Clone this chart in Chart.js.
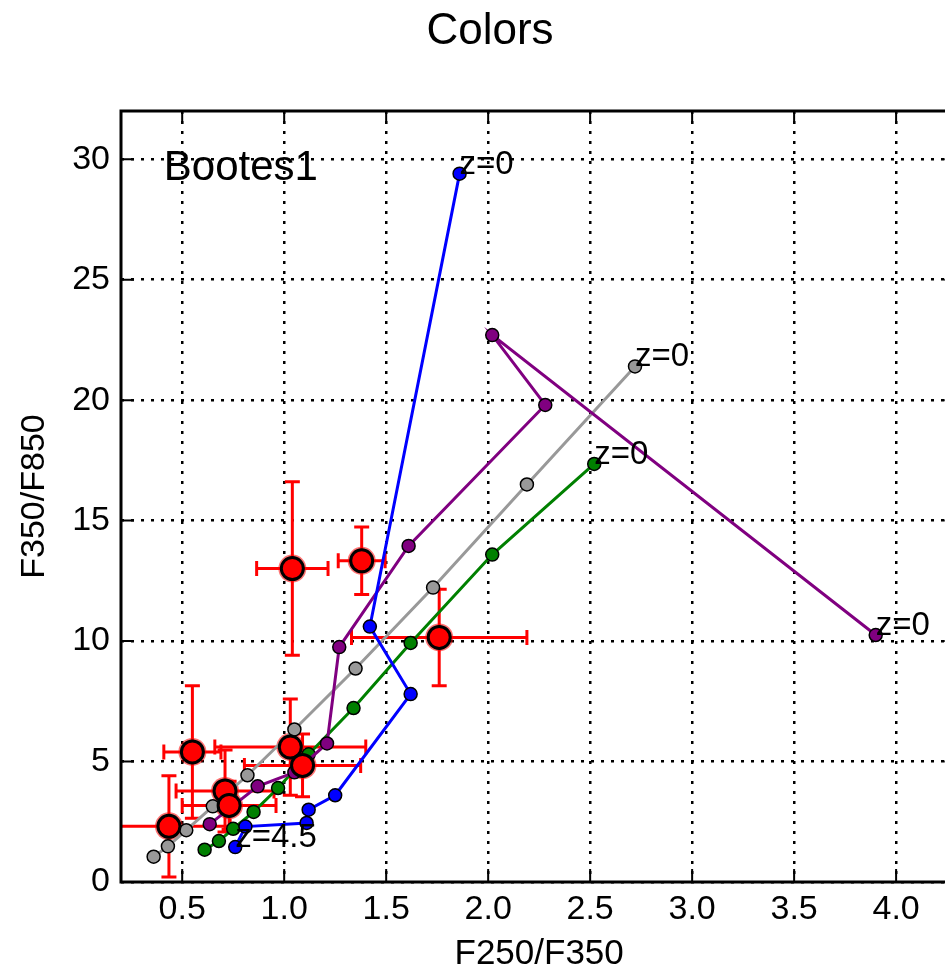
<!DOCTYPE html>
<html>
<head>
<meta charset="utf-8">
<title>Colors</title>
<script src="https://cdn.jsdelivr.net/npm/chart.js@4.4.1/dist/chart.umd.min.js"></script>
<style>
  html, body { margin: 0; padding: 0; background: #fff; overflow: hidden; }
  #wrap { width: 980px; height: 974px; }
</style>
</head>
<body>
<div id="wrap"><canvas id="colorChart" width="980" height="974"></canvas></div>
<script>
// Model tracks, first point z=4.5, last point z=0
const blueX = [0.76, 0.81, 1.11, 1.12, 1.25, 1.62, 1.42, 1.86];
const blueY = [1.45, 2.30, 2.45, 3.00, 3.60, 7.80, 10.60, 29.40];

const purpleX = [0.635, 0.87, 1.05, 1.21, 1.27, 1.61, 2.28, 2.02, 3.90];
const purpleY = [2.40, 3.97, 4.55, 5.75, 9.75, 13.95, 19.80, 22.70, 10.25];

const grayX = [0.36, 0.43, 0.52, 0.65, 0.82, 1.05, 1.35, 1.73, 2.19, 2.72];
const grayY = [1.05, 1.48, 2.15, 3.14, 4.43, 6.33, 8.86, 12.22, 16.50, 21.40];

const greenX = [0.61, 0.68, 0.75, 0.85, 0.97, 1.12, 1.34, 1.62, 2.02, 2.52];
const greenY = [1.34, 1.70, 2.21, 2.91, 3.90, 5.30, 7.22, 9.92, 13.59, 17.35];

// Bootes1 measurements with errors
const obsX    = [1.04, 1.38, 1.76, 0.55, 0.435, 1.03, 1.09, 0.71, 0.73];
const obsY    = [13.01, 13.33, 10.15, 5.40, 2.31, 5.60, 4.84, 3.78, 3.18];
const obsXErr = [0.175, 0.115, 0.43, 0.14, 0.30, 0.37, 0.285, 0.24, 0.23];
const obsYErr = [3.6, 1.4, 2.0, 2.75, 2.1, 2.0, 1.3, 1.7, 1.0];

const xTicks = [0.5, 1.0, 1.5, 2.0, 2.5, 3.0, 3.5, 4.0];
const yTicks = [0, 5, 10, 15, 20, 25, 30];

const FONT = '"Liberation Sans", Arial, Helvetica, sans-serif';
Chart.defaults.font.family = FONT;
Chart.defaults.color = '#000';

function track(label, xs, ys, color) {
    return {
        label: label,
        data: xs.map((v, i) => ({ x: v, y: ys[i] })),
        showLine: true,
        borderColor: color,
        borderWidth: 3,
        backgroundColor: color,
        pointBackgroundColor: color,
        pointBorderColor: '#000',
        pointBorderWidth: 1.5,
        pointRadius: 6.5,
        pointHoverRadius: 6.5,
    };
}

// error bars and the red glow behind each measurement
const errorBars = {
    id: 'errorBars',
    beforeDatasetsDraw(chart) {
        const { ctx, chartArea: a, scales: { x, y } } = chart;
        const cap = 7.5;
        ctx.save();
        ctx.beginPath();
        ctx.rect(a.left, a.top, a.right - a.left, a.bottom - a.top);
        ctx.clip();
        ctx.strokeStyle = '#ff0000';
        ctx.lineWidth = 3;
        obsX.forEach((vx, i) => {
            const px = x.getPixelForValue(vx);
            const py = y.getPixelForValue(obsY[i]);
            const x0 = x.getPixelForValue(vx - obsXErr[i]);
            const x1 = x.getPixelForValue(vx + obsXErr[i]);
            const y0 = y.getPixelForValue(obsY[i] - obsYErr[i]);
            const y1 = y.getPixelForValue(obsY[i] + obsYErr[i]);
            ctx.beginPath();
            ctx.moveTo(x0, py); ctx.lineTo(x1, py);
            ctx.moveTo(px, y0); ctx.lineTo(px, y1);
            ctx.moveTo(x0, py - cap); ctx.lineTo(x0, py + cap);
            ctx.moveTo(x1, py - cap); ctx.lineTo(x1, py + cap);
            ctx.moveTo(px - cap, y0); ctx.lineTo(px + cap, y0);
            ctx.moveTo(px - cap, y1); ctx.lineTo(px + cap, y1);
            ctx.stroke();
            ctx.fillStyle = 'rgba(255,0,0,0.55)';
            ctx.beginPath();
            ctx.arc(px, py, 14, 0, Math.PI * 2);
            ctx.fill();
        });
        ctx.restore();
    }
};

// text labels: field name and redshift ends of the tracks
const labels = {
    id: 'labels',
    afterDatasetsDraw(chart) {
        const { ctx, scales: { x, y } } = chart;
        ctx.save();
        ctx.fillStyle = '#000';
        ctx.textAlign = 'left';
        ctx.textBaseline = 'alphabetic';
        ctx.font = '42px ' + FONT;
        ctx.fillText('Bootes1', x.getPixelForValue(0.41), y.getPixelForValue(29.13));
        ctx.font = '33px ' + FONT;
        [[blueX, blueY], [purpleX, purpleY], [grayX, grayY], [greenX, greenY]].forEach(([xs, ys]) => {
            const n = xs.length - 1;
            ctx.fillText('z=0', x.getPixelForValue(xs[n]), y.getPixelForValue(ys[n]));
        });
        ctx.fillText('z=4.5', x.getPixelForValue(blueX[0]), y.getPixelForValue(blueY[0]));
        ctx.restore();
    }
};

// inward tick marks, axes frame and the figure title
const frame = {
    id: 'frame',
    afterDraw(chart) {
        const { ctx, chartArea: a, scales: { x, y } } = chart;
        const len = 13;
        ctx.save();
        ctx.strokeStyle = '#000';
        ctx.lineWidth = 2;
        ctx.beginPath();
        xTicks.forEach(v => {
            const px = x.getPixelForValue(v);
            ctx.moveTo(px, a.bottom); ctx.lineTo(px, a.bottom - len);
            ctx.moveTo(px, a.top); ctx.lineTo(px, a.top + len);
        });
        yTicks.forEach(v => {
            const py = y.getPixelForValue(v);
            ctx.moveTo(a.left, py); ctx.lineTo(a.left + len, py);
            ctx.moveTo(a.right, py); ctx.lineTo(a.right - len, py);
        });
        ctx.stroke();
        ctx.lineWidth = 3;
        ctx.strokeRect(a.left, a.top, a.right - a.left, a.bottom - a.top);

        ctx.fillStyle = '#000';
        ctx.font = '44px ' + FONT;
        ctx.textAlign = 'center';
        ctx.textBaseline = 'alphabetic';
        ctx.fillText('Colors', 490, 44);
        ctx.restore();
    }
};

const ctx = document.getElementById('colorChart').getContext('2d');
new Chart(ctx, {
    type: 'scatter',
    data: {
        datasets: [
            {
                label: 'Bootes1',
                data: obsX.map((v, i) => ({ x: v, y: obsY[i] })),
                showLine: false,
                pointRadius: 11,
                pointHoverRadius: 11,
                pointBackgroundColor: '#ff0000',
                pointBorderColor: '#000',
                pointBorderWidth: 3,
            },
            track('blue', blueX, blueY, '#0000ff'),
            track('purple', purpleX, purpleY, '#800080'),
            track('gray', grayX, grayY, '#999999'),
            track('green', greenX, greenY, '#008000'),
        ],
    },
    options: {
        responsive: false,
        animation: false,
        events: [],
        layout: { padding: { top: 111, right: 22.7, bottom: 0, left: 0 } },
        plugins: {
            legend: { display: false },
            tooltip: { enabled: false },
            title: { display: false },
        },
        scales: {
            x: {
                type: 'linear',
                min: 0.2,
                max: 4.3,
                afterBuildTicks: s => { s.ticks = xTicks.map(v => ({ value: v })); },
                afterFit: s => { s.height = 92; },
                ticks: {
                    font: { size: 34 },
                    color: '#000',
                    padding: 7,
                    autoSkip: false,
                    maxRotation: 0,
                    callback: v => Number(v).toFixed(1),
                },
                grid: { color: '#000', lineWidth: 2.5, drawTicks: false },
                border: { display: false, dash: [3, 7] },
                title: {
                    display: true,
                    text: 'F250/F350',
                    color: '#000',
                    font: { size: 35, lineHeight: 1.1 },
                    padding: { top: 0, bottom: 0 },
                },
            },
            y: {
                type: 'linear',
                min: 0,
                max: 32,
                afterBuildTicks: s => { s.ticks = yTicks.map(v => ({ value: v })); },
                afterFit: s => { s.width = 121; },
                ticks: {
                    font: { size: 34 },
                    color: '#000',
                    padding: 11,
                    autoSkip: false,
                    callback: v => String(v),
                },
                grid: { color: '#000', lineWidth: 2.5, drawTicks: false },
                border: { display: false, dash: [3, 7] },
                title: {
                    display: true,
                    text: 'F350/F850',
                    color: '#000',
                    font: { size: 34, lineHeight: 1.2 },
                    padding: { top: 14.6, bottom: 0 },
                },
            },
        },
    },
    plugins: [errorBars, labels, frame],
});
</script>
</body>
</html>
